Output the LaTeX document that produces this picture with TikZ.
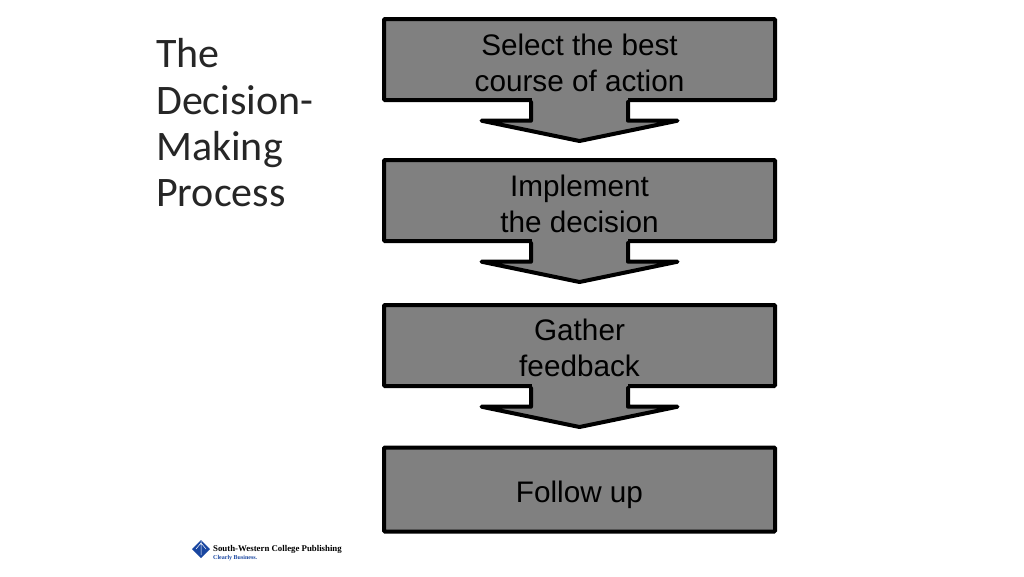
\documentclass[tikz,border=0pt]{standalone}
\usepackage{fontspec}
\setmainfont{Liberation Sans}
\newfontfamily\titlefont{Carlito}
\newfontfamily\logofont{Liberation Serif}
\definecolor{boxgray}{RGB}{128,128,128}
\definecolor{logoblue}{RGB}{25,70,160}
\usetikzlibrary{calc}
\newcommand\liftline[1]{\rule{0pt}{#1pt}}
\tikzset{
  stepbox/.style={draw=black,fill=boxgray,line width=4pt,rounded corners=1pt,minimum width=391pt,inner sep=0pt,anchor=north west,align=center,font=\fontsize{29.7}{36}\selectfont,text=black},
  callout/.style={draw=black,fill=boxgray,line width=4pt,line join=round,line cap=round}
}
\begin{document}
\begin{tikzpicture}[x=1pt,y=-1pt]
\useasboundingbox (0,0) rectangle (1024,576);
\fill[white] (0,0) rectangle (1024,576);
\node[stepbox,minimum height=81pt] (b1) at (382,17) {\liftline{28}Select the best\\course of action};
\node[stepbox,minimum height=81pt] (b2) at (382,158) {\liftline{28}Implement\\the decision};
\node[stepbox,minimum height=81pt] (b3) at (382,303) {\liftline{27}Gather\\feedback};
\node[stepbox,minimum height=84pt] (b4) at (382,445.5) {\liftline{32}Follow up};
\foreach \a in {b1,b2,b3}{
  \coordinate (s) at (\a.south);
  \fill[boxgray] ($(s)+(-48,-6)$) rectangle ($(s)+(48,20)$);
  \draw[callout] ($(s)+(-48.5,0)$) -- ($(s)+(-48.5,18.7)$) -- ($(s)+(-98,18.7)$) -- ($(s)+(0,39)$) -- ($(s)+(98,18.7)$) -- ($(s)+(48.5,18.7)$) -- ($(s)+(48.5,0)$);
}
\node[anchor=north west,align=left,font=\titlefont\fontsize{42}{46.3}\selectfont,text=black!85,inner sep=0pt] (title) at (156,38.5) {The\\Decision-\\Making\\Process};
\fill[logoblue] (192,549) -- (201,540) -- (210,549) -- (201,558) -- cycle;
\draw[white,line width=.5pt] (201,541) -- (201,555) (196,549) -- (201,543) -- (206,549);
\node[anchor=west,inner sep=0pt,font=\logofont\bfseries\fontsize{8.8}{10}\selectfont] (logo) at (213,549) {South-Western College Publishing};
\node[anchor=west,inner sep=0pt,font=\logofont\bfseries\fontsize{6}{6}\selectfont,text=logoblue] (tag) at (213,558) {Clearly Business.};
\end{tikzpicture}
\end{document}
